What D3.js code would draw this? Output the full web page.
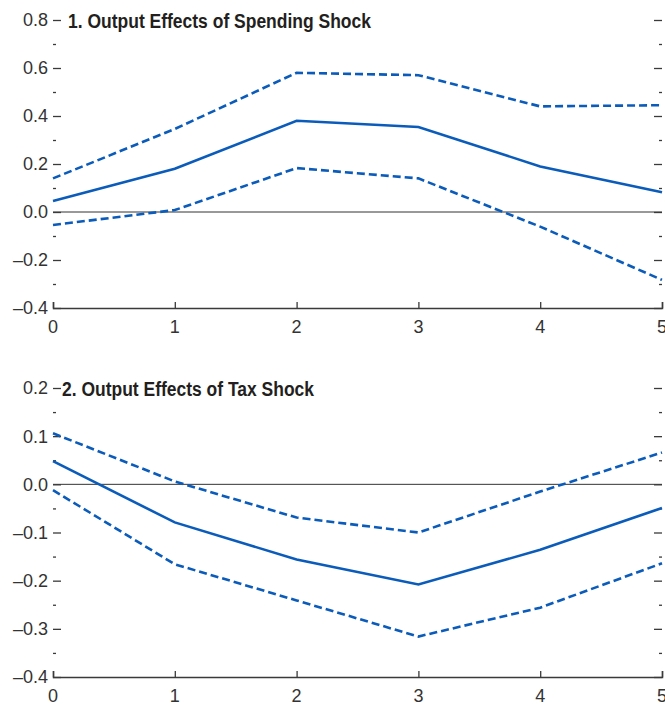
<!DOCTYPE html>
<html>
<head>
<meta charset="utf-8">
<script src="https://cdn.jsdelivr.net/npm/d3@7"></script>
<style>
body { margin: 0; background: #fff; }
text { font-family: "Liberation Sans", Arial, sans-serif; }
</style>
</head>
<body>
<div id="chart"></div>
<script>
var svgWidth = 665;
var svgHeight = 706;

var horizons = [0, 1, 2, 3, 4, 5];

// panel 1: spending shock
var spendMid   = [0.046, 0.180, 0.380, 0.354, 0.190, 0.082];
var spendUpper = [0.140, 0.346, 0.580, 0.570, 0.440, 0.445];
var spendLower = [-0.054, 0.008, 0.183, 0.140, -0.061, -0.283];
var spendTicks = [-0.4, -0.2, 0.0, 0.2, 0.4, 0.6, 0.8];
var spendMinor = [-0.3, -0.1, 0.1, 0.3, 0.5, 0.7];

// panel 2: tax shock
var taxMid   = [0.048, -0.079, -0.156, -0.208, -0.136, -0.049];
var taxUpper = [0.106, 0.006, -0.069, -0.100, -0.015, 0.066];
var taxLower = [-0.012, -0.166, -0.241, -0.316, -0.256, -0.164];
var taxTicks = [-0.4, -0.3, -0.2, -0.1, 0.0, 0.1, 0.2];
var taxMinor = [-0.35, -0.25, -0.15, -0.05, 0.05, 0.15];

var lineColor = "#0b5cba";
var axisColor = "#3a3a3a";

var svg = d3.select("#chart")
    .append("svg")
    .attr("width", svgWidth)
    .attr("height", svgHeight);

function fmt(v){
    var s = d3.format(".1f")(Math.abs(v));
    return v < 0 ? "\u2013" + s : s;
}

function drawPanel(cfg){
    var g = svg.append("g");

    var xScale = d3.scaleLinear()
        .domain([0, 5])
        .range([53, 662]);

    var yScale = d3.scaleLinear()
        .domain(cfg.domain)
        .range([cfg.bottom, cfg.top]);

    // zero line
    g.append("line")
        .attr("x1", xScale(0)).attr("x2", xScale(5))
        .attr("y1", yScale(0)).attr("y2", yScale(0))
        .attr("stroke", "#333").attr("stroke-width", 1);

    // ticks on both sides point inward
    var leftMajor = g.append("g")
        .attr("transform", `translate(${xScale(0)},0)`)
        .call(d3.axisRight(yScale).tickValues(cfg.ticks).tickSize(8).tickFormat(""));
    var leftMinor = g.append("g")
        .attr("transform", `translate(${xScale(0)},0)`)
        .call(d3.axisRight(yScale).tickValues(cfg.minor).tickSize(3).tickFormat(""));
    var rightMajor = g.append("g")
        .attr("transform", `translate(${xScale(5)},0)`)
        .call(d3.axisLeft(yScale).tickValues(cfg.ticks).tickSize(8).tickFormat(""));
    var rightMinor = g.append("g")
        .attr("transform", `translate(${xScale(5)},0)`)
        .call(d3.axisLeft(yScale).tickValues(cfg.minor).tickSize(3).tickFormat(""));
    [leftMajor, leftMinor, rightMajor, rightMinor].forEach(function(a){
        a.select(".domain").remove();
        a.selectAll("line").attr("stroke", axisColor).attr("stroke-width", 1.3);
    });

    g.selectAll(".ylab")
        .data(cfg.ticks)
        .enter()
        .append("text")
        .attr("x", 48)
        .attr("y", d => yScale(d))
        .attr("dy", "0.36em")
        .attr("text-anchor", "end")
        .style("font-size", "18px")
        .style("fill", "#333")
        .text(d => fmt(d));

    // bottom axis
    var xAxis = g.append("g")
        .attr("transform", `translate(0,${cfg.bottom})`)
        .call(d3.axisTop(xScale).tickValues(horizons).tickSize(6).tickFormat(""));
    xAxis.select(".domain").attr("stroke", axisColor).attr("stroke-width", 1.5);
    xAxis.selectAll("line").attr("stroke", axisColor).attr("stroke-width", 1.3);

    g.selectAll(".xlab")
        .data(horizons)
        .enter()
        .append("text")
        .attr("x", d => xScale(d))
        .attr("y", cfg.bottom + 25)
        .attr("text-anchor", "middle")
        .style("font-size", "18px")
        .style("fill", "#333")
        .text(d => d);

    var line = d3.line()
        .x((d, i) => xScale(horizons[i]))
        .y(d => yScale(d));

    [[cfg.upper, "8,4"], [cfg.lower, "8,4"], [cfg.mid, null]].forEach(function(s){
        g.append("path")
            .datum(s[0])
            .attr("d", line)
            .attr("fill", "none")
            .attr("stroke", lineColor)
            .attr("stroke-width", 2.6)
            .attr("stroke-dasharray", s[1]);
    });

    g.append("text")
        .attr("x", cfg.titleX)
        .attr("y", cfg.top + 8)
        .attr("textLength", cfg.titleW)
        .attr("lengthAdjust", "spacingAndGlyphs")
        .style("font-size", "20px")
        .style("font-weight", "bold")
        .style("fill", "#231f20")
        .text(cfg.title);
}

drawPanel({
    title: "1. Output Effects of Spending Shock",
    titleX: 68, titleW: 303,
    top: 20, bottom: 308,
    domain: [-0.4, 0.8],
    ticks: spendTicks, minor: spendMinor,
    mid: spendMid, upper: spendUpper, lower: spendLower
});

drawPanel({
    title: "2. Output Effects of Tax Shock",
    titleX: 62, titleW: 252,
    top: 388, bottom: 677,
    domain: [-0.4, 0.2],
    ticks: taxTicks, minor: taxMinor,
    mid: taxMid, upper: taxUpper, lower: taxLower
});
</script>
</body>
</html>
